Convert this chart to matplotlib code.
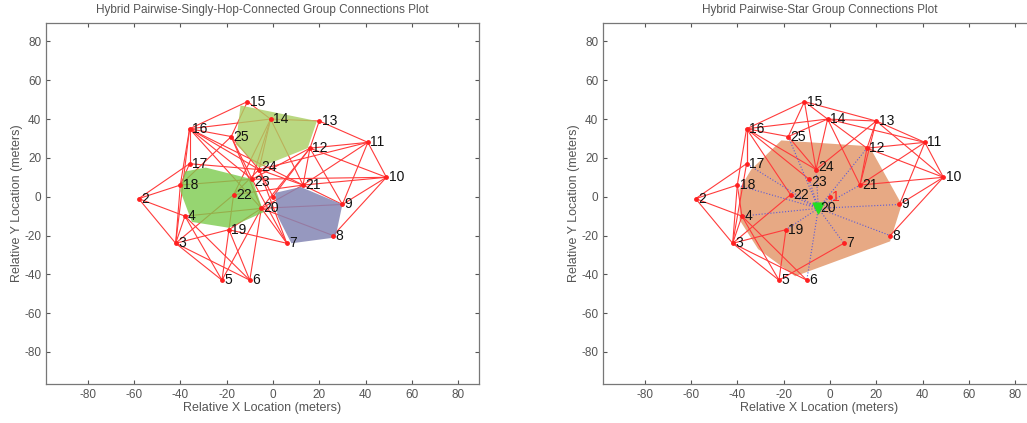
import matplotlib
matplotlib.use("Agg")
from matplotlib import pyplot as plt
from matplotlib.patches import Polygon

plt.rcParams['font.family'] = ['Liberation Sans', 'DejaVu Sans']
plt.rcParams['axes.unicode_minus'] = False

# node positions (relative, meters), node 1 is the reference at the origin
node_ids = list(range(1, 26))
node_x = [0, -58, -42, -38, -22, -10, 6, 26, 30, 49, 41, 16, 20, -1, -11, -36, -36, -40, -19, -5, 13, -17, -9, -6, -18]
node_y = [0, -1, -24, -10, -43, -43, -24, -20, -4, 10, 28, 25, 39, 40, 49, 35, 17, 6, -17, -6, 6, 1, 9, 14, 31]

# links of the singly-hop-connected plot
edges_left = [
    (15, 16), (15, 14), (15, 25), (16, 14), (16, 25), (16, 17), (16, 18), (16, 3),
    (16, 24), (16, 23), (16, 20), (16, 21), (14, 13), (14, 24), (14, 21), (14, 23),
    (13, 12), (13, 11), (12, 11), (12, 10), (12, 21), (12, 20), (12, 23), (12, 9),
    (11, 10), (11, 9), (11, 21), (11, 24), (10, 21), (10, 9), (10, 8), (10, 23),
    (25, 24), (25, 23), (25, 20), (25, 18), (17, 18), (17, 24), (17, 2), (2, 18),
    (2, 4), (2, 3), (18, 3), (18, 23), (4, 3), (4, 20), (4, 5), (4, 6),
    (3, 19), (3, 5), (3, 6), (3, 22), (19, 5), (19, 6), (19, 20), (19, 7),
    (20, 7), (20, 9), (20, 8), (20, 6), (20, 5), (22, 24), (22, 21), (22, 19),
    (23, 7), (24, 7), (21, 9), (21, 20), (21, 24), (22, 14), (1, 12), (1, 24),
]

# links of the star plot
edges_right = [
    (15, 16), (15, 14), (15, 13), (15, 25), (15, 24), (16, 14), (16, 25), (16, 17),
    (16, 18), (16, 22), (16, 23), (16, 24), (14, 13), (14, 25), (14, 24), (14, 21),
    (14, 12), (14, 11), (13, 11), (13, 12), (13, 21), (13, 24), (13, 10), (12, 11),
    (12, 21), (12, 10), (11, 10), (11, 9), (11, 21), (10, 21), (10, 9), (10, 8),
    (2, 17), (2, 18), (2, 4), (2, 3), (18, 3), (17, 3), (18, 4), (4, 3),
    (4, 5), (4, 6), (3, 19), (3, 5), (3, 6), (19, 5), (7, 5), (22, 3),
    (17, 16), (25, 24),
]
star_hub = 20
star_leaves = [25, 12, 17, 18, 4, 9, 8, 7, 6, 19, 22, 23, 24, 21, 1]

# group hulls
green_a_x = [-14, 19, 15, -6, -16]
green_a_y = [47, 39, 25, 15, 27]
green_b_x = [-38, -29, -9, -4, -19, -35, -40]
green_b_y = [13, 15, 9, -8, -16, -13, 3]
blue_x = [1, 12, 30, 27, 8, 2]
blue_y = [2, 5, -4, -21, -24, -10]
orange_x = [-21, 17, 31, 26, -15, -31, -39, -39, -34]
orange_y = [29, 26, -4, -23, -41, -27, -12, 4, 14]

ticks = [-80, -60, -40, -20, 0, 20, 40, 60, 80]
grey = '#555555'

pos = dict(zip(node_ids, zip(node_x, node_y)))
# small vertical nudges so the crowded labels stay readable
label_dy = {24: 1.5, 23: -1.5}

fig = plt.figure(figsize=(10.27, 4.23), dpi=100)
ax1 = fig.add_axes([46 / 1027, 39 / 423, 433 / 1027, 361 / 423])
ax2 = fig.add_axes([603 / 1027, 39 / 423, 433 / 1027, 361 / 423])


def draw_edges(ax, edges):
    for a, b in edges:
        ax.plot([pos[a][0], pos[b][0]], [pos[a][1], pos[b][1]], color='#ff3b3b', lw=0.8, zorder=1)


def draw_nodes(ax, hide_one=False):
    ax.scatter(node_x, node_y, s=6, c='#ff2020', zorder=4)
    for n, x, y in zip(node_ids, node_x, node_y):
        dy = label_dy.get(n, 0)
        if n == 1:
            if not hide_one:
                ax.text(x + 1, y, '1', color='#ff2020', fontsize=10, ha='left', va='center', zorder=5)
            continue
        ax.text(x + 1, y + dy, str(n), color='#111111', fontsize=10, ha='left', va='center', zorder=5)


def style(ax, title):
    ax.set_xlim(-98, 89)
    ax.set_ylim(-96.5, 89.5)
    ax.set_xticks(ticks)
    ax.set_yticks(ticks)
    ax.tick_params(direction='in', length=3, top=True, right=True, labelsize=8.5,
                   colors=grey, width=0.8)
    for sp in ax.spines.values():
        sp.set_color('#777777')
        sp.set_linewidth(0.9)
    ax.set_title(title, fontsize=8.5, color=grey, pad=7)
    ax.set_xlabel('Relative X Location (meters)', fontsize=9, color=grey, labelpad=1)
    ax.set_ylabel('Relative Y Location (meters)', fontsize=9, color=grey, labelpad=1)


# left: pairwise + singly-hop-connected groups
draw_edges(ax1, edges_left)
ax1.add_patch(Polygon(list(zip(green_a_x, green_a_y)), closed=True, fc='#a9cf63', ec='none', alpha=0.8, zorder=2))
ax1.add_patch(Polygon(list(zip(green_b_x, green_b_y)), closed=True, fc='#7ccb4e', ec='none', alpha=0.8, zorder=2))
ax1.add_patch(Polygon(list(zip(blue_x, blue_y)), closed=True, fc='#8486b4', ec='none', alpha=0.85, zorder=2))
draw_nodes(ax1, hide_one=True)
style(ax1, 'Hybrid Pairwise-Singly-Hop-Connected Group Connections Plot')

# right: pairwise + star group
ax2.add_patch(Polygon(list(zip(orange_x, orange_y)), closed=True, fc='#e39a6e', ec='none', alpha=0.85, zorder=0.5))
draw_edges(ax2, edges_right)
for n in star_leaves:
    ax2.plot([pos[star_hub][0], pos[n][0]], [pos[star_hub][1], pos[n][1]],
             color='#5b5bd6', lw=0.8, ls=':', zorder=1.5)
draw_nodes(ax2)
ax2.scatter([pos[star_hub][0]], [pos[star_hub][1]], marker='v', s=60, c='#22dd22', zorder=4.5)
style(ax2, 'Hybrid Pairwise-Star Group Connections Plot')

fig.savefig('out.png', dpi=100)
